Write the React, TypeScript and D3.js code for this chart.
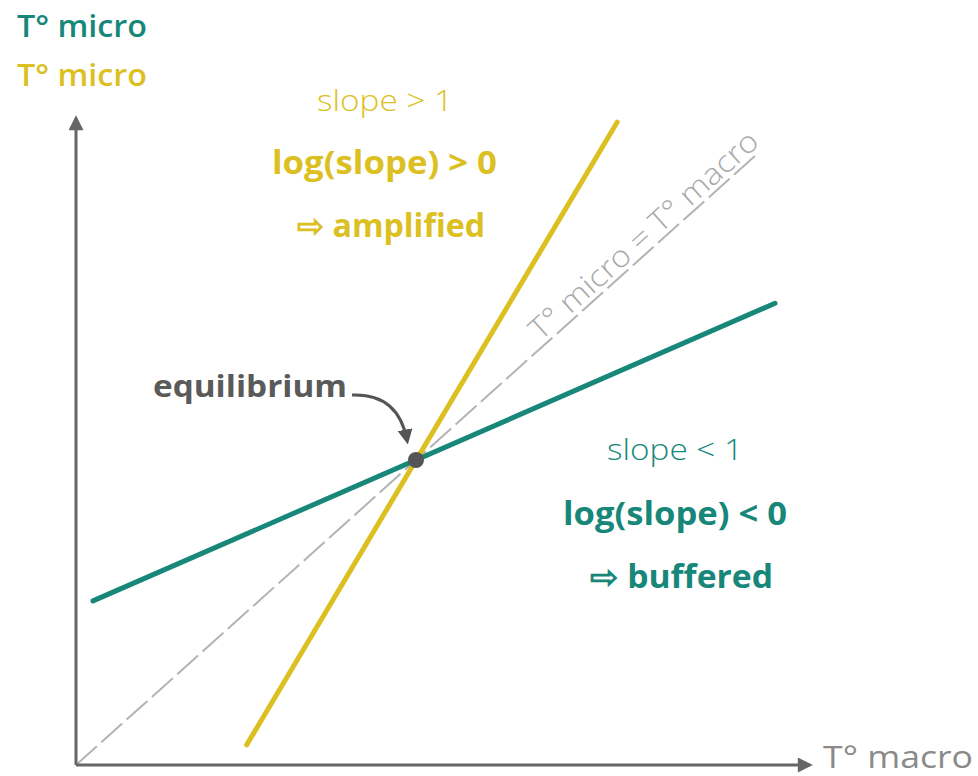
import React from 'react';
import * as d3 from 'd3';

// values in "temperature units" of the schematic
const identityLine: [number, number][] = [[0, 0], [10.05, 10.05]];
const amplifiedLine: [number, number][] = [[2.51, 0.33], [7.96, 10.54]];
const bufferedLine: [number, number][] = [[0.25, 2.69], [10.28, 7.57]];
const equilibrium: [number, number] = [5, 5];
const axisMax = { x: 10.88, y: 10.7 };

const amplifiedText = ['slope > 1', 'log(slope) > 0', '⇨ amplified'];
const bufferedText = ['slope < 1', 'log(slope) < 0', '⇨ buffered'];
const axisLabels = { x: 'T° macro', y: 'T° micro', identity: 'T° micro = T° macro', point: 'equilibrium' };

const TEAL = '#17877a';
const YELLOW = '#dcc022';
const GREY = '#666666';
const FONT = '"Open Sans", Lato, sans-serif';

const App = () => {
    const width = 978;
    const height = 776;

    const x = d3.scaleLinear().domain([0, 10]).range([76, 756]);
    const y = d3.scaleLinear().domain([0, 10]).range([765, 155]);

    const line = d3.line<[number, number]>()
        .x(d => x(d[0]))
        .y(d => y(d[1]));

    // angle of the identity line on screen
    const angle = Math.atan2(y(10) - y(0), x(10) - x(0)) * 180 / Math.PI;

    const ex = x(equilibrium[0]);
    const ey = y(equilibrium[1]);

    const labelX = x(6.88);
    const labelY = y(6.88);

    const fit = { lengthAdjust: 'spacingAndGlyphs' as const };

    return (
        <svg width={width} height={height} style={{ position: 'absolute', left: 0, top: 0, background: '#fff' }}
            fontFamily={FONT}>
            <defs>
                <marker id="axisHead" viewBox="0 0 10 10" refX="8" refY="5" markerWidth="6" markerHeight="5"
                    markerUnits="strokeWidth" orient="auto">
                    <path d="M0,0 L10,5 L0,10 z" fill={GREY} />
                </marker>
                <marker id="pointHead" viewBox="0 0 10 10" refX="7" refY="5" markerWidth="5" markerHeight="5"
                    markerUnits="strokeWidth" orient="auto">
                    <path d="M0,0 L10,5 L0,10 z" fill="#555" />
                </marker>
            </defs>

            {/* identity line */}
            <path d={line(identityLine) ?? ''} stroke="#b3b3b3" strokeWidth={2} strokeDasharray="28,6" fill="none" />
            <text x={labelX} y={labelY} transform={`rotate(${angle},${labelX},${labelY}) translate(0,-5)`}
                fontSize={30} fontWeight={300} fill="#a8a8a8" textLength={296} {...fit}>{axisLabels.identity}</text>

            {/* axes */}
            <line x1={x(0)} y1={y(0)} x2={x(axisMax.x) - 6} y2={y(0)} stroke={GREY} strokeWidth={3}
                markerEnd="url(#axisHead)" />
            <line x1={x(0)} y1={y(0)} x2={x(0)} y2={y(axisMax.y) + 6} stroke={GREY} strokeWidth={3}
                markerEnd="url(#axisHead)" />
            <text x={823} y={768} fontSize={31} fill="#8a8a8a" textLength={150} {...fit}>{axisLabels.x}</text>
            <text x={17} y={37} fontSize={30} fontWeight={600} fill={TEAL} textLength={130} {...fit}>{axisLabels.y}</text>
            <text x={17} y={86} fontSize={30} fontWeight={600} fill={YELLOW} textLength={130} {...fit}>{axisLabels.y}</text>

            {/* slopes */}
            <path d={line(bufferedLine) ?? ''} stroke={TEAL} strokeWidth={5} strokeLinecap="round" fill="none" />
            <path d={line(amplifiedLine) ?? ''} stroke={YELLOW} strokeWidth={5} strokeLinecap="round" fill="none" />

            {/* equilibrium */}
            <circle cx={ex} cy={ey} r={8} fill="#555" />
            <text x={153} y={397} fontSize={31} fontWeight={700} fill="#5a5a5a" textLength={194} {...fit}>{axisLabels.point}</text>
            <path d={`M352,395 Q398,393 ${ex - 9},${ey - 20}`} stroke="#555" strokeWidth={3} fill="none"
                markerEnd="url(#pointHead)" />

            {/* annotations */}
            <g fill={YELLOW}>
                <text x={317} y={111} fontSize={30} fontWeight={300} textLength={136} {...fit}>{amplifiedText[0]}</text>
                <text x={272} y={174} fontSize={33} fontWeight={700} textLength={225} {...fit}>{amplifiedText[1]}</text>
                <text x={297} y={237} fontSize={32} fontWeight={700} textLength={188} {...fit}>{amplifiedText[2]}</text>
            </g>
            <g fill={TEAL}>
                <text x={607} y={460} fontSize={30} fontWeight={300} textLength={136} {...fit}>{bufferedText[0]}</text>
                <text x={563} y={525} fontSize={33} fontWeight={700} textLength={224} {...fit}>{bufferedText[1]}</text>
                <text x={590} y={588} fontSize={32} fontWeight={700} textLength={183} {...fit}>{bufferedText[2]}</text>
            </g>
        </svg>
    );
};

export default App;
